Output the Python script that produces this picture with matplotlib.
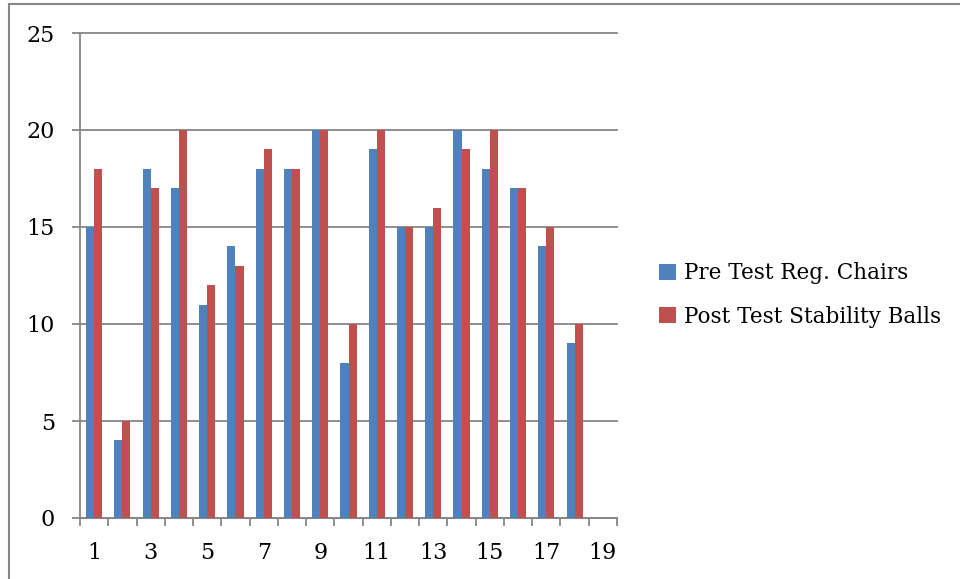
import numpy as np
import matplotlib
matplotlib.use("Agg")
import matplotlib.pyplot as plt
from matplotlib.patches import Rectangle

plt.rcParams['font.family'] = ['DejaVu Serif']

# data
categories = [str(i) for i in range(1, 20)]
pre_test = [15, 4, 18, 17, 11, 14, 18, 18, 20, 8, 19, 15, 15, 20, 18, 17, 14, 9]
post_test = [18, 5, 17, 20, 12, 13, 19, 18, 20, 10, 20, 15, 16, 19, 20, 17, 15, 10]
series_names = ["Pre Test Reg. Chairs", "Post Test Stability Balls"]

fig = plt.figure(figsize=(9.6, 5.79), dpi=100)
ax = fig.add_axes([80 / 960, 61 / 579, 537 / 960, 485 / 579])

grey = "#868686"
w = 0.285
x = np.arange(len(pre_test))
ax.bar(x - w / 2, pre_test, w, color="#4F81BD", label=series_names[0], zorder=3)
ax.bar(x + w / 2, post_test, w, color="#C0504D", label=series_names[1], zorder=3)

ax.set_xlim(-0.5, len(categories) - 0.5)
ax.set_ylim(0, 25)
ax.set_yticks(range(0, 26, 5))
ax.yaxis.grid(True, color=grey, linewidth=1.3, zorder=0)
for gl in ax.get_ygridlines():
    gl.set_clip_on(False)

# labels on odd categories, tick marks between categories
ax.set_xticks(range(0, len(categories), 2))
ax.set_xticklabels(categories[::2])
ax.set_xticks(np.arange(-0.5, len(categories)), minor=True)
ax.tick_params(axis="x", which="major", length=0, pad=17, labelsize=16)
ax.tick_params(axis="x", which="minor", length=6, width=1.3, color=grey, direction="out")
ax.tick_params(axis="y", length=6, width=1.3, color=grey, pad=12, labelsize=16)

for s in ["top", "right"]:
    ax.spines[s].set_visible(False)
for s in ["left", "bottom"]:
    ax.spines[s].set_color(grey)
    ax.spines[s].set_linewidth(1.3)

fig.legend(loc="center left", bbox_to_anchor=(640 / 960, 1 - 295 / 579),
           frameon=False, fontsize=15.5, handlelength=0.75, handleheight=0.75,
           handletextpad=0.4, labelspacing=1.0)

# outer chart border
fig.patches.append(Rectangle((9 / 960, -0.05), 1.0, 1 - 4 / 579 + 0.05,
                             transform=fig.transFigure, fill=False,
                             edgecolor=grey, linewidth=1.5))

fig.savefig("out.png", dpi=100)
